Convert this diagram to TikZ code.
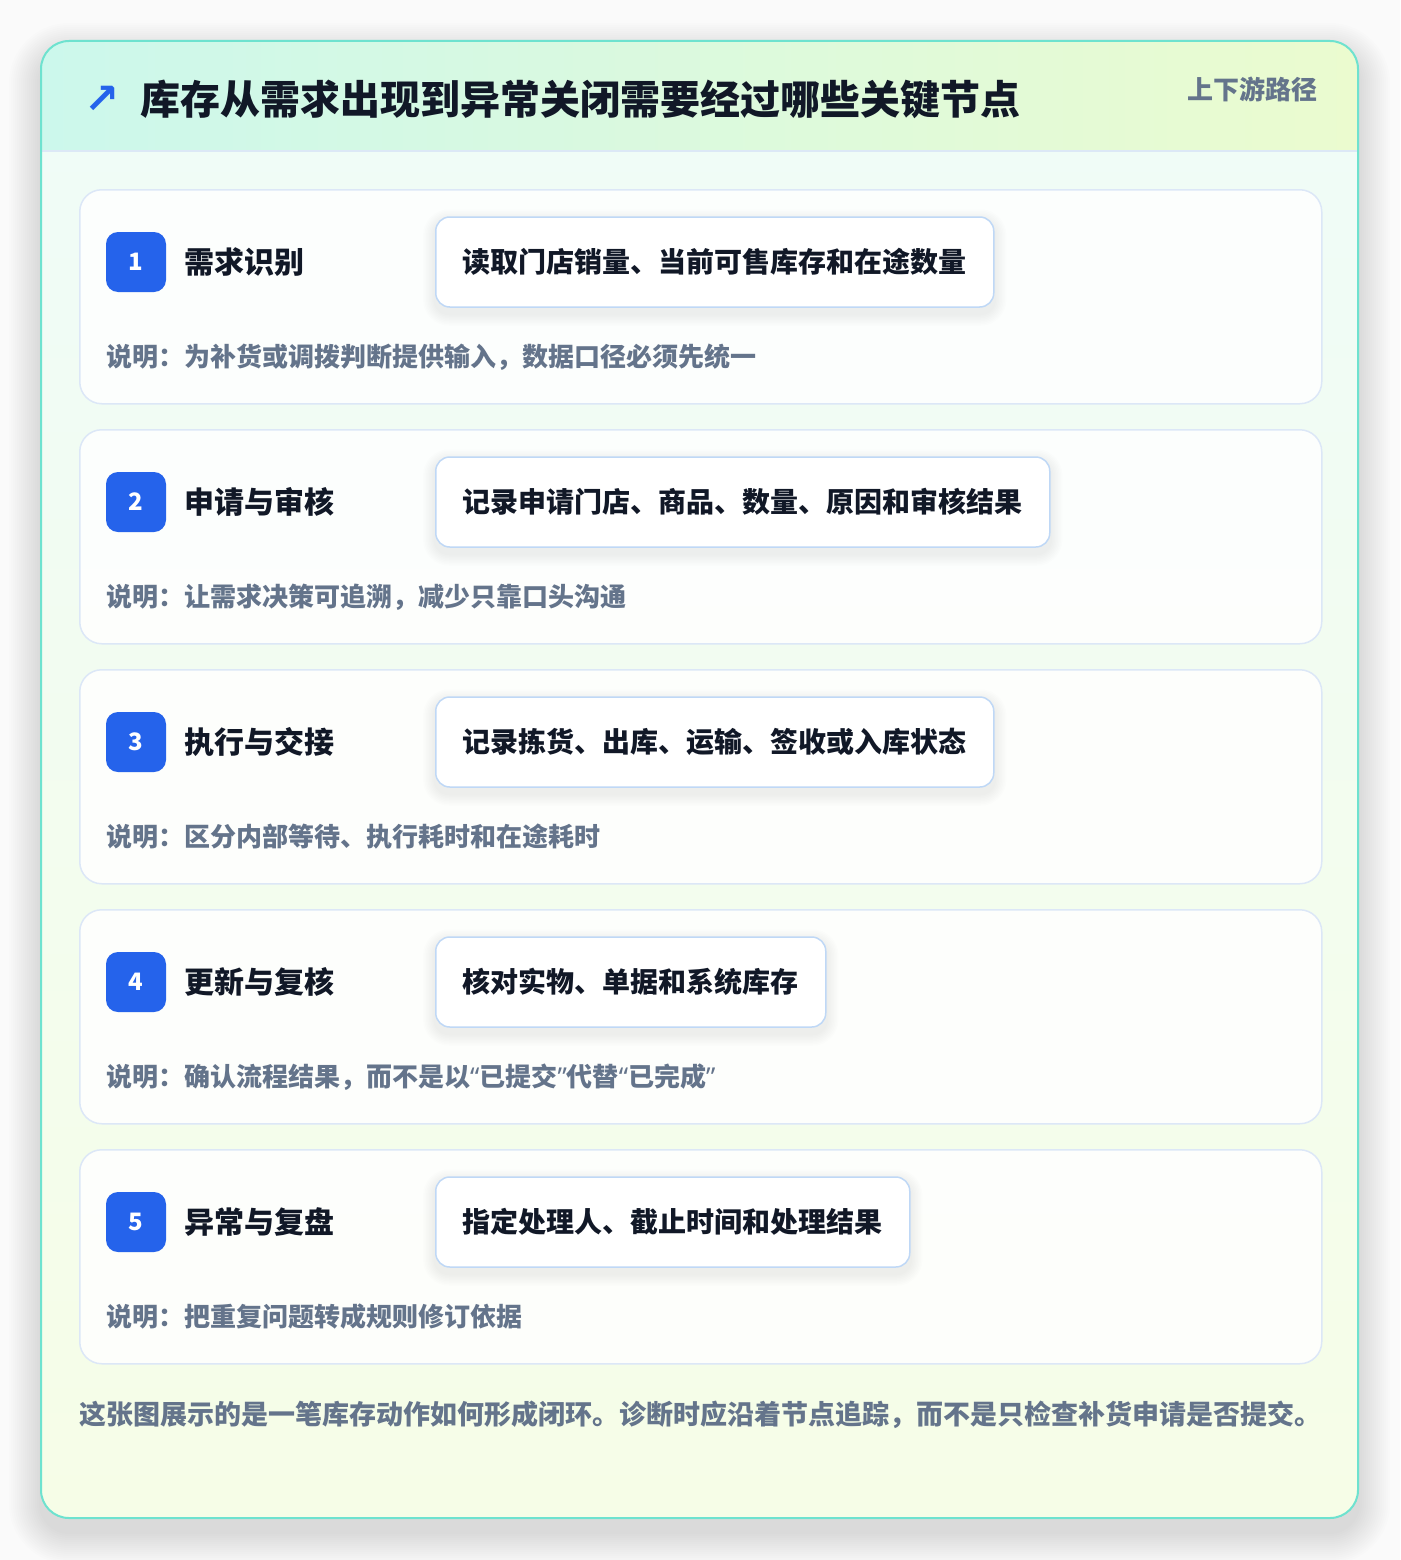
\documentclass[tikz,border=0pt]{standalone}
\usepackage{fontspec}
\setmainfont{Noto Sans CJK SC}
\newfontfamily\symfont{DejaVu Sans}
\newfontfamily\latinfont{Noto Sans}
\definecolor{pagebg}{HTML}{FAFAFA}
\definecolor{bodytop}{HTML}{EFFCF8}
\definecolor{bodybot}{HTML}{F6FDE7}
\definecolor{hdl}{HTML}{CCF8EC}
\definecolor{hdr}{HTML}{EBFBCF}
\definecolor{hdrline}{HTML}{DCE8F6}
\definecolor{frame}{HTML}{6EE2CF}
\definecolor{cardline}{HTML}{DCE7F7}
\definecolor{boxline}{HTML}{BFD8F6}
\definecolor{accent}{HTML}{2563EB}
\definecolor{ink}{HTML}{111827}
\definecolor{muted}{HTML}{64748B}
\tikzset{
  card/.style={draw=cardline, line width=1.5pt, fill=white, fill opacity=0.85, rounded corners=22pt, inner sep=0pt},
  badge/.style={fill=accent, rounded corners=12pt, minimum width=60pt, minimum height=60pt, inner sep=0pt, text=white, font=\fontsize{24}{26}\selectfont\bfseries},
  steptitle/.style={inner sep=0pt, text=ink, font=\fontsize{30}{36}\selectfont\bfseries},
  infobox/.style={draw=boxline, line width=1.5pt, fill=white, rounded corners=14pt, inner xsep=27pt, inner ysep=0pt, minimum height=90pt, text=ink, font=\fontsize{28}{34}\selectfont\bfseries},
  desc/.style={inner sep=0pt, text=muted, font=\fontsize{26}{32}\selectfont\bfseries},
}
\newcommand\lqt{{\latinfont “}}
\newcommand\rqt{{\latinfont ”}}
\begin{document}
\begin{tikzpicture}[x=1pt,y=-1pt]
\fill[pagebg] (0,0) rectangle (1400,1560);
\useasboundingbox (0,0) rectangle (1400,1560);
% outer card shadow (layered)
\foreach \k in {1,...,16}{
  \fill[black, opacity=0.008, rounded corners=28pt+2*\k] (41-2*\k,41-2*\k+14) rectangle (1358+2*\k,1518+2*\k+14);
}
% outer card
\shade[top color=bodytop, bottom color=bodybot, rounded corners=28pt] (41,41) rectangle (1358,1518);
\begin{scope}
\clip[rounded corners=28pt] (41,41) rectangle (1358,1518);
\shade[left color=hdl, right color=hdr] (41,41) rectangle (1358,151);
\end{scope}
\draw[hdrline, line width=1.5pt] (41,151) -- (1358,151);
\draw[frame, line width=2pt, rounded corners=28pt] (41,41) rectangle (1358,1518);
% header
\node[inner sep=0pt, text=accent, font=\symfont\fontsize{42}{42}\selectfont\bfseries] (icon) at (102,100) {↗};
\node[inner sep=0pt, anchor=west, text=ink, font=\fontsize{40}{48}\selectfont\bfseries] (title) at (140,99) {库存从需求出现到异常关闭需要经过哪些关键节点};
\node[inner sep=0pt, anchor=east, text=muted, font=\fontsize{26}{32}\selectfont\bfseries] (tag) at (1318,89) {上下游路径};
% steps
\foreach \i/\t/\b/\d in {
  1/需求识别/读取门店销量、当前可售库存和在途数量/为补货或调拨判断提供输入，数据口径必须先统一,
  2/申请与审核/记录申请门店、商品、数量、原因和审核结果/让需求决策可追溯，减少只靠口头沟通,
  3/执行与交接/记录拣货、出库、运输、签收或入库状态/区分内部等待、执行耗时和在途耗时,
  4/更新与复核/核对实物、单据和系统库存/确认流程结果，而不是以\lqt 已提交\rqt 代替\lqt 已完成\rqt,
  5/异常与复盘/指定处理人、截止时间和处理结果/把重复问题转成规则修订依据}{
  \pgfmathsetmacro\ty{189+240*(\i-1)}
  \node[card, minimum width=1242pt, minimum height=214pt, anchor=north west] (card\i) at (79,\ty) {};
  \node[badge] (num\i) at (136,\ty+73) {\i};
  \node[steptitle, anchor=west] (ttl\i) at (184,\ty+73) {\t};
  \node[infobox, anchor=west, opacity=0] (ghost\i) at (435,\ty+73) {\b};
  \foreach \k in {1,...,8}{
    \fill[black, opacity=0.008, rounded corners=14pt+1.5*\k]
      ([xshift=-1.5*\k, yshift=1.5*\k-5]ghost\i.north west) rectangle ([xshift=1.5*\k, yshift=-1.5*\k-6]ghost\i.south east);
  }
  \node[infobox, anchor=west] (box\i) at (435,\ty+73) {\b};
  \node[desc, anchor=west] (desc\i) at (106,\ty+168) {说明：\d};
}
% footer
\node[desc, anchor=west, font=\fontsize{27}{32}\selectfont\bfseries] (foot) at (79,1415) {这张图展示的是一笔库存动作如何形成闭环。诊断时应沿着节点追踪，而不是只检查补货申请是否提交。};
\end{tikzpicture}
\end{document}
